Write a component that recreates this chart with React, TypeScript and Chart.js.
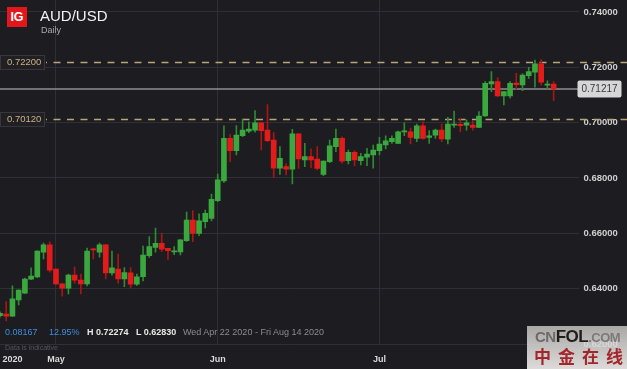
import React, { useEffect, useRef } from "react";
import { Chart, registerables } from "chart.js";

Chart.register(...registerables);

// ---- data (AUD/USD daily candles) ----
const OPEN = [0.6302, 0.6308, 0.6301, 0.6359, 0.6384, 0.6434, 0.6442, 0.6532, 0.6558, 0.6471,
  0.6417, 0.6402, 0.6449, 0.6431, 0.6417, 0.6543, 0.6532, 0.6558, 0.6457, 0.6471,
  0.6435, 0.6457, 0.6416, 0.6443, 0.6519, 0.6549, 0.6564, 0.6546, 0.6533, 0.6533,
  0.6573, 0.6648, 0.6600, 0.6642, 0.6654, 0.6718, 0.6789, 0.6943, 0.6899, 0.6953,
  0.6969, 0.6973, 0.6999, 0.6973, 0.6937, 0.6835, 0.6841, 0.6832, 0.6959, 0.6865,
  0.6877, 0.6868, 0.6813, 0.6859, 0.6913, 0.6943, 0.6862, 0.6893, 0.6862, 0.6875,
  0.6883, 0.6899, 0.6919, 0.6931, 0.6925, 0.6966, 0.6967, 0.6943, 0.6988, 0.6946,
  0.6955, 0.6973, 0.6940, 0.6991, 0.6994, 0.6991, 0.6991, 0.6983, 0.7024, 0.7140,
  0.7148, 0.7096, 0.7096, 0.7143, 0.7136, 0.7170, 0.7182, 0.7212, 0.7135, 0.7139];
const HIGH = [0.6316, 0.6353, 0.6410, 0.6396, 0.6438, 0.6475, 0.6538, 0.6565, 0.6569, 0.6472,
  0.6418, 0.6453, 0.6478, 0.6453, 0.6547, 0.6547, 0.6565, 0.6559, 0.6536, 0.6525,
  0.6476, 0.6476, 0.6453, 0.6554, 0.6588, 0.6619, 0.6601, 0.6546, 0.6552, 0.6577,
  0.6677, 0.6682, 0.6670, 0.6684, 0.6742, 0.6814, 0.6988, 0.6958, 0.6989, 0.7013,
  0.7003, 0.7043, 0.7000, 0.7065, 0.6964, 0.6913, 0.6851, 0.6976, 0.6960, 0.6925,
  0.6905, 0.6913, 0.6862, 0.6937, 0.6977, 0.6949, 0.6901, 0.6898, 0.6889, 0.6907,
  0.6919, 0.6947, 0.6952, 0.6952, 0.6969, 0.6999, 0.6980, 0.6995, 0.7003, 0.6971,
  0.6977, 0.6995, 0.7019, 0.7042, 0.7013, 0.7010, 0.7006, 0.7040, 0.7148, 0.7184,
  0.7162, 0.7112, 0.7148, 0.7178, 0.7176, 0.7200, 0.7226, 0.72274, 0.7151, 0.7148];
const LOW = [0.6297, 0.6283, 0.6300, 0.6341, 0.6383, 0.6432, 0.6440, 0.6507, 0.6460, 0.6414,
  0.6373, 0.6381, 0.6420, 0.6381, 0.6410, 0.6507, 0.6514, 0.6435, 0.6449, 0.6420,
  0.6407, 0.6403, 0.6412, 0.6428, 0.6513, 0.6532, 0.6534, 0.6506, 0.6523, 0.6522,
  0.6571, 0.6570, 0.6591, 0.6619, 0.6645, 0.6714, 0.6784, 0.6859, 0.6883, 0.6949,
  0.6964, 0.6965, 0.6901, 0.6931, 0.6802, 0.6813, 0.6811, 0.6778, 0.6834, 0.6841,
  0.6837, 0.6829, 0.6808, 0.6855, 0.6895, 0.6853, 0.6851, 0.6844, 0.6847, 0.6844,
  0.6835, 0.6883, 0.6905, 0.6925, 0.6924, 0.6953, 0.6923, 0.6931, 0.6940, 0.6925,
  0.6943, 0.6931, 0.6923, 0.6983, 0.6966, 0.6973, 0.6973, 0.6982, 0.7022, 0.7112,
  0.7094, 0.7064, 0.7088, 0.7121, 0.7115, 0.7160, 0.7128, 0.7136, 0.7121, 0.7079];
const CLOSE = [0.6311, 0.6301, 0.6363, 0.6395, 0.6435, 0.6445, 0.6536, 0.6558, 0.6467, 0.6417,
  0.6402, 0.6449, 0.6431, 0.6417, 0.6536, 0.6540, 0.6558, 0.6457, 0.6475, 0.6435,
  0.6458, 0.6416, 0.6443, 0.6521, 0.6552, 0.6564, 0.6543, 0.6537, 0.6536, 0.6576,
  0.6648, 0.6600, 0.6645, 0.6672, 0.6723, 0.6793, 0.6943, 0.6899, 0.6955, 0.6973,
  0.6977, 0.6999, 0.6971, 0.6935, 0.6835, 0.6871, 0.6832, 0.6959, 0.6869, 0.6877,
  0.6865, 0.6834, 0.6861, 0.6916, 0.6943, 0.6861, 0.6893, 0.6865, 0.6877, 0.6886,
  0.6901, 0.6922, 0.6934, 0.6943, 0.6967, 0.6970, 0.6946, 0.6988, 0.6943, 0.6952,
  0.6973, 0.6941, 0.6995, 0.6995, 0.6989, 0.6999, 0.6983, 0.7024, 0.7142, 0.7148,
  0.7096, 0.7112, 0.7142, 0.7137, 0.7172, 0.7184, 0.7212, 0.7146, 0.7139, 0.71217];

const N_SLOTS = 94; // candle slots incl. empty space on the right
const X_TICK_LABELS: Record<number, string> = { 2: "2020", 9: "May", 35: "Jun", 61: "Jul" };
const MONTH_SLOTS = [9, 35, 61];
const Y_TICKS = [0.62, 0.64, 0.66, 0.68, 0.7, 0.72, 0.74];
const Y_MIN = 0.62;
const Y_MAX = 0.7443;
const LEVELS = [0.722, 0.7012];
const LAST_PRICE = 0.71217;

const STAT_CHANGE = "0.08167";
const STAT_PCT = "12.95%";
const STAT_HIGH = "H 0.72274";
const STAT_LOW = "L 0.62830";
const STAT_RANGE = "Wed Apr 22 2020 - Fri Aug 14 2020";

// ---- styles ----
const BG = "#1c1c21";
const GRID = "#2f2f35";
const UP = "#3aa73f";
const DOWN = "#e31b1b";
const UP_WICK = "#2f8a34";
const DOWN_WICK = "#a81616";
const LEVEL_COLOR = "#b9a57a";
const FONT = "'Liberation Sans', Arial, Helvetica, sans-serif";

export default function App() {
  const ref = useRef<HTMLCanvasElement>(null);

  useEffect(() => {
    const prevMargin = document.body.style.margin;
    document.body.style.margin = "0";
    const labels = Array.from({ length: N_SLOTS }, (_, i) => X_TICK_LABELS[i] ?? "");
    const up = OPEN.map((o, i) => CLOSE[i] >= o);

    const levelPlugin = {
      id: "levels",
      beforeDatasetsDraw(chart: any) {
        const { ctx, chartArea } = chart;
        const y = chart.scales.y;
        ctx.save();
        ctx.strokeStyle = LEVEL_COLOR;
        ctx.lineWidth = 1.3;
        ctx.setLineDash([7, 6.5]);
        ctx.lineDashOffset = 6;
        LEVELS.forEach((v) => {
          const py = Math.round(y.getPixelForValue(v)) + 0.5;
          ctx.beginPath();
          ctx.moveTo(46, py);
          ctx.lineTo(chart.width, py);
          ctx.stroke();
        });
        ctx.setLineDash([]);
        ctx.strokeStyle = "#8f8f93";
        ctx.lineWidth = 1.5;
        const lp = y.getPixelForValue(LAST_PRICE);
        ctx.beginPath();
        ctx.moveTo(0, lp);
        ctx.lineTo(chartArea.right, lp);
        ctx.stroke();
        ctx.restore();
      },
      afterDraw(chart: any) {
        const { ctx, chartArea } = chart;
        const y = chart.scales.y;
        ctx.save();
        ctx.font = `9.5px ${FONT}`;
        ctx.textBaseline = "middle";
        LEVELS.forEach((v) => {
          const py = Math.round(y.getPixelForValue(v));
          ctx.fillStyle = "#1f1f24";
          ctx.strokeStyle = "#36363c";
          ctx.lineWidth = 1;
          ctx.fillRect(0.5, py - 6.5, 44, 14);
          ctx.strokeRect(0.5, py - 6.5, 44, 14);
          ctx.fillStyle = "#c9b383";
          ctx.textAlign = "left";
          ctx.fillText(v.toFixed(5), 7, py + 0.5);
        });
        const lp = y.getPixelForValue(LAST_PRICE);
        const bx = chartArea.right - 1;
        ctx.fillStyle = "#d6d6d8";
        ctx.strokeStyle = "#f0f0f0";
        ctx.beginPath();
        (ctx as any).roundRect ? ctx.roundRect(bx, lp - 8.5, 44, 17, 2) : ctx.rect(bx, lp - 8.5, 44, 17);
        ctx.fill();
        ctx.fillStyle = "#3a3a3e";
        ctx.textAlign = "center";
        ctx.font = `10px ${FONT}`;
        ctx.fillText(LAST_PRICE.toFixed(5), bx + 22, lp + 0.5);
        ctx.restore();
      },
    };

    const chart = new Chart(ref.current as HTMLCanvasElement, {
      type: "bar",
      data: {
        labels,
        datasets: [
          {
            label: "body",
            data: OPEN.map((o, i) => [o, CLOSE[i]]) as any,
            backgroundColor: up.map((u) => (u ? UP : DOWN)),
            barThickness: 5,
            grouped: false,
            minBarLength: 1,
            borderWidth: 0,
          } as any,
          {
            label: "wick",
            data: LOW.map((l, i) => [l, HIGH[i]]) as any,
            backgroundColor: up.map((u) => (u ? UP_WICK : DOWN_WICK)),
            barThickness: 1,
            grouped: false,
            borderWidth: 0,
          } as any,
        ],
      },
      options: {
        responsive: true,
        maintainAspectRatio: false,
        animation: false,
        layout: { padding: 0 },
        plugins: { legend: { display: false }, tooltip: { enabled: false } },
        scales: {
          x: {
            type: "category",
            offset: false,
            grid: {
              offset: false,
              drawTicks: false,
              color: (c: any) => (MONTH_SLOTS.includes(c.index) ? GRID : "rgba(0,0,0,0)"),
            },
            border: { display: false },
            ticks: {
              autoSkip: false,
              maxRotation: 0,
              minRotation: 0,
              padding: 10,
              color: "#dadada",
              font: { family: FONT, size: 9, weight: "bold" },
              callback: (_v: any, i: number) => labels[i],
            },
            afterFit: (s: any) => {
              s.height = 25;
              s.paddingLeft = 0;
              s.paddingRight = 0;
            },
          },
          y: {
            type: "linear",
            position: "right",
            min: Y_MIN,
            max: Y_MAX,
            afterBuildTicks: (s: any) => {
              s.ticks = Y_TICKS.map((v) => ({ value: v }));
            },
            grid: { color: GRID, drawTicks: false },
            border: { display: false },
            ticks: {
              padding: 5,
              color: "#cfcfcf",
              font: { family: FONT, size: 9.5, weight: "bold" },
              callback: (v: any) => Number(v).toFixed(5),
            },
            afterFit: (s: any) => {
              s.width = 48.5;
              s.paddingTop = 0;
              s.paddingBottom = 0;
            },
          },
        },
      } as any,
      plugins: [levelPlugin],
    });

    return () => {
      chart.destroy();
      document.body.style.margin = prevMargin;
    };
  }, []);

  const abs = (left: number, top: number, extra: any = {}) => ({
    position: "absolute" as const,
    left,
    top,
    whiteSpace: "nowrap" as const,
    ...extra,
  });

  return (
    <div
      style={{
        position: "fixed",
        left: 0,
        top: 0,
        width: 627,
        height: 369,
        background: BG,
        overflow: "hidden",
        fontFamily: FONT,
      }}
    >
      <div style={{ position: "absolute", left: 0, top: 0, width: 627, height: 369 }}>
        <canvas ref={ref} />
      </div>

      {/* header */}
      <div
        style={abs(7, 7, {
          width: 20,
          height: 20,
          background: "#e3161c",
          color: "#fff",
          fontWeight: "bold",
          fontSize: 12.5,
          lineHeight: "20px",
          textAlign: "center",
        })}
      >
        IG
      </div>
      <div style={abs(40, 8, { color: "#f2f2f2", fontSize: 15, lineHeight: "15px" })}>AUD/USD</div>
      <div style={abs(41, 25.7, { color: "#a9a9ad", fontSize: 9, lineHeight: "9px" })}>Daily</div>

      {/* stats row */}
      <div style={abs(5, 327, { color: "#3d8fdb", fontSize: 9, lineHeight: "11px" })}>{STAT_CHANGE}</div>
      <div style={abs(49, 327, { color: "#3d8fdb", fontSize: 9, lineHeight: "11px" })}>{STAT_PCT}</div>
      <div style={abs(87, 327, { color: "#e8e8e8", fontSize: 9, lineHeight: "11px", fontWeight: "bold" })}>
        {STAT_HIGH}
      </div>
      <div style={abs(136, 327, { color: "#e8e8e8", fontSize: 9, lineHeight: "11px", fontWeight: "bold" })}>
        {STAT_LOW}
      </div>
      <div style={abs(183, 327, { color: "#8c8c90", fontSize: 9, lineHeight: "11px" })}>{STAT_RANGE}</div>
      <div style={abs(5, 343.5, { color: "#55555a", fontSize: 7, lineHeight: "8px" })}>Data is indicative</div>

      {/* watermark */}
      <div
        style={abs(527, 326, {
          width: 100,
          height: 43,
          background: "linear-gradient(to bottom, rgba(205,203,200,0.8), rgba(232,230,228,0.95))",
        })}
      >
        <div style={abs(8, 2, { fontWeight: "bold", fontSize: 15, lineHeight: "17px", letterSpacing: -0.5 })}>
          <span style={{ color: "#6b6b6b" }}>CN</span>
          <span style={{ color: "#1e1e1e", fontSize: 17 }}>FOL</span>
          <span style={{ color: "#7a7a7a", fontSize: 13 }}>.COM</span>
        </div>
        <div
          style={abs(7, 20, {
            color: "#a3262a",
            fontWeight: "bold",
            fontSize: 17,
            lineHeight: "20px",
            letterSpacing: 7,
            fontFamily: "'Noto Sans CJK SC', sans-serif",
          })}
        >
          中金在线
        </div>
      </div>
    </div>
  );
}
